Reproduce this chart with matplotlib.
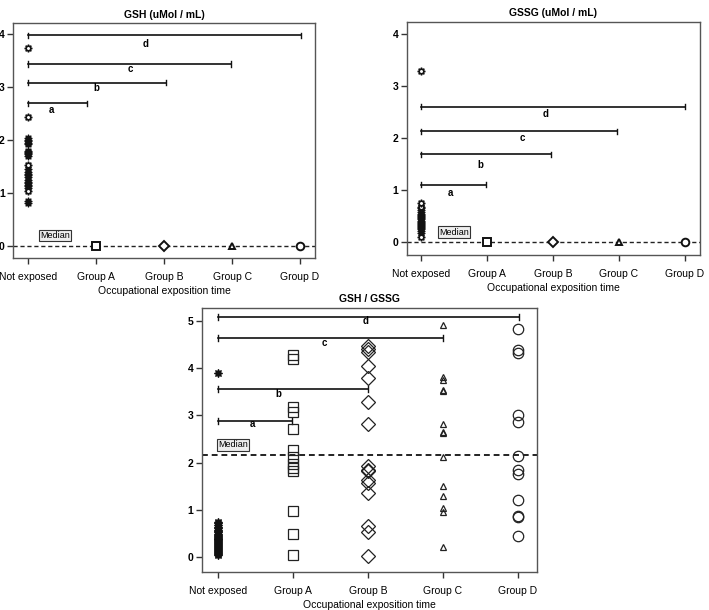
import matplotlib.pyplot as plt

plt.rcParams['font.family'] = ['Liberation Sans', 'DejaVu Sans']

groups = ['Not exposed', 'Group A', 'Group B', 'Group C', 'Group D']
group_markers = ['s', 'D', '^', 'o']

# GSH (uMol / mL)
gsh_ctrl = [0.82, 0.85, 1.10, 1.13, 1.15, 1.18, 1.20, 1.25, 1.30, 1.33, 1.36,
            1.40, 1.45, 1.70, 1.73, 1.75, 1.78, 1.80, 1.92, 1.95, 1.98, 2.00, 2.03]
gsh_ctrl_open = [1.03, 1.53, 2.43, 3.73]
gsh_groups = [0, 0, 0, 0]
gsh_median = 0.0
gsh_brackets = [(2.69, 0.87, 'a', 0.34, 2.57), (3.08, 2.02, 'b', 1.0, 2.98),
                (3.43, 2.98, 'c', 1.5, 3.33), (3.97, 4.02, 'd', 1.73, 3.80)]

# GSSG (uMol / mL)
gssg_ctrl = [0.18, 0.22, 0.25, 0.28, 0.30, 0.32, 0.34, 0.36, 0.38, 0.40, 0.42,
             0.44, 0.46, 0.48, 0.50, 0.52, 0.55, 0.58, 0.62, 0.66]
gssg_ctrl_open = [0.11, 0.68, 0.75, 3.28]
gssg_groups = [0, 0, 0, 0]
gssg_median = 0.0
gssg_brackets = [(1.11, 0.98, 'a', 0.44, 0.95), (1.69, 1.97, 'b', 0.9, 1.48),
                 (2.13, 2.97, 'c', 1.53, 2.0), (2.60, 4.0, 'd', 1.89, 2.47)]

# GSH / GSSG
ratio_ctrl = [0.05, 0.08, 0.10, 0.12, 0.14, 0.16, 0.18, 0.20, 0.22, 0.24, 0.26,
              0.28, 0.30, 0.32, 0.34, 0.36, 0.38, 0.40, 0.42, 0.44, 0.46, 0.48,
              0.50, 0.53, 0.56, 0.59, 0.62, 0.65, 0.68, 0.72, 0.75, 3.89]
ratio_a = [4.28, 4.20, 3.17, 3.08, 2.72, 2.27, 2.12, 1.97, 1.90, 1.83, 0.99, 0.49, 0.06]
ratio_b = [4.47, 4.40, 4.35, 4.05, 3.80, 3.28, 2.82, 1.94, 1.85, 1.82, 1.64, 1.58,
           1.36, 0.67, 0.53, 0.04]
ratio_c = [4.92, 3.81, 3.74, 3.54, 3.51, 2.82, 2.66, 2.63, 2.12, 1.50, 1.29, 1.04,
           0.97, 0.23]
ratio_d = [4.82, 4.39, 4.32, 3.00, 2.86, 2.15, 1.85, 1.76, 1.22, 0.87, 0.85, 0.46]
ratio_median = 2.155
ratio_brackets = [(2.89, 0.98, 'a', 0.46, 2.82), (3.56, 2.0, 'b', 0.8, 3.46),
                  (4.63, 3.0, 'c', 1.41, 4.53), (5.08, 4.01, 'd', 1.96, 4.99)]

star = (8, 1, 0)
fs = 7.5

fig = plt.figure(figsize=(7.09, 6.1), dpi=100)


def style_axes(ax, title, yticks, ylim, xlim):
    ax.set_title(title, fontsize=fs, fontweight='bold', pad=4)
    ax.set_xlim(*xlim)
    ax.set_ylim(*ylim)
    ax.set_xticks(range(5))
    ax.set_xticklabels(groups, fontsize=fs)
    ax.set_yticks(yticks)
    ax.set_yticklabels([str(t) for t in yticks], fontsize=fs, fontweight='bold')
    ax.set_xlabel('Occupational exposition time', fontsize=fs, labelpad=3)
    for s in ax.spines.values():
        s.set_color('#555555')
        s.set_linewidth(1.0)
    ax.tick_params(length=4, width=1, color='#333333', pad=2)
    ax.tick_params(axis='x', pad=6)


def draw_brackets(ax, brackets, cap):
    for y, x2, lab, lx, ly in brackets:
        ax.plot([0, x2], [y, y], color='#111111', lw=1.2)
        ax.plot([0, 0], [y - cap, y + cap], color='#111111', lw=1.0)
        ax.plot([x2, x2], [y - cap, y + cap], color='#111111', lw=1.0)
        ax.text(lx, ly, lab, fontsize=7, fontweight='bold', ha='center', va='center')


def median_box(ax, x, y, y0, dash_lw):
    ax.axhline(y0, color='#222222', ls=(0, (3, 2)), lw=dash_lw, zorder=1)
    ax.text(x, y, 'Median', fontsize=6.5, ha='center', va='center',
            bbox=dict(boxstyle='square,pad=0.15', fc='#eeeeee', ec='#333333', lw=0.8))


small_sizes = {'s': 5.5, 'D': 5, '^': 4.5, 'o': 5.5}
big_sizes = {'s': 6.5, 'D': 7, '^': 5, 'o': 7.5}

# panel 1 - GSH
ax1 = fig.add_axes([0.0183, 0.577, 0.426, 0.385])
style_axes(ax1, 'GSH (uMol / mL)', [0, 1, 2, 3, 4], (-0.226, 4.2), (-0.225, 4.22))
median_box(ax1, 0.39, 0.2, gsh_median, 1.0)
draw_brackets(ax1, gsh_brackets, 0.05)
ax1.plot([0] * len(gsh_ctrl), gsh_ctrl, ls='none', marker=star, ms=5.5,
         mfc='#111111', mec='#111111', mew=0.8)
ax1.plot([0] * len(gsh_ctrl_open), gsh_ctrl_open, ls='none', marker=star, ms=5.5,
         mfc='white', mec='#111111', mew=1.0)
for i, (v, m) in enumerate(zip(gsh_groups, group_markers)):
    ax1.plot(i + 1, v, ls='none', marker=m, ms=small_sizes[m],
             mfc='white', mec='#111111', mew=1.4, zorder=3)

# panel 2 - GSSG
ax2 = fig.add_axes([0.5736, 0.582, 0.4137, 0.3825])
style_axes(ax2, 'GSSG (uMol / mL)', [0, 1, 2, 3, 4], (-0.24, 4.23), (-0.22, 4.23))
median_box(ax2, 0.5, 0.2, gssg_median, 1.0)
draw_brackets(ax2, gssg_brackets, 0.05)
ax2.plot([0] * len(gssg_ctrl), gssg_ctrl, ls='none', marker=star, ms=5.5,
         mfc='#111111', mec='#111111', mew=0.8)
ax2.plot([0] * len(gssg_ctrl_open), gssg_ctrl_open, ls='none', marker=star, ms=5.5,
         mfc='white', mec='#111111', mew=1.0)
for i, (v, m) in enumerate(zip(gssg_groups, group_markers)):
    ax2.plot(i + 1, v, ls='none', marker=m, ms=small_sizes[m],
             mfc='white', mec='#111111', mew=1.4, zorder=3)

# panel 3 - GSH / GSSG
ax3 = fig.add_axes([0.2845, 0.0628, 0.4725, 0.4323])
style_axes(ax3, 'GSH / GSSG', [0, 1, 2, 3, 4, 5], (-0.3, 5.27), (-0.22, 4.25))
median_box(ax3, 0.2, 2.38, ratio_median, 1.4)
draw_brackets(ax3, ratio_brackets, 0.06)
ax3.plot([0] * len(ratio_ctrl), ratio_ctrl, ls='none', marker=star, ms=6,
         mfc='#111111', mec='#111111', mew=0.8)
for i, (vals, m) in enumerate(zip([ratio_a, ratio_b, ratio_c, ratio_d], group_markers)):
    ax3.plot([i + 1] * len(vals), vals, ls='none', marker=m, ms=big_sizes[m],
             mfc='none', mec='#222222', mew=0.9, zorder=3)

fig.savefig('out.png', dpi=100)
